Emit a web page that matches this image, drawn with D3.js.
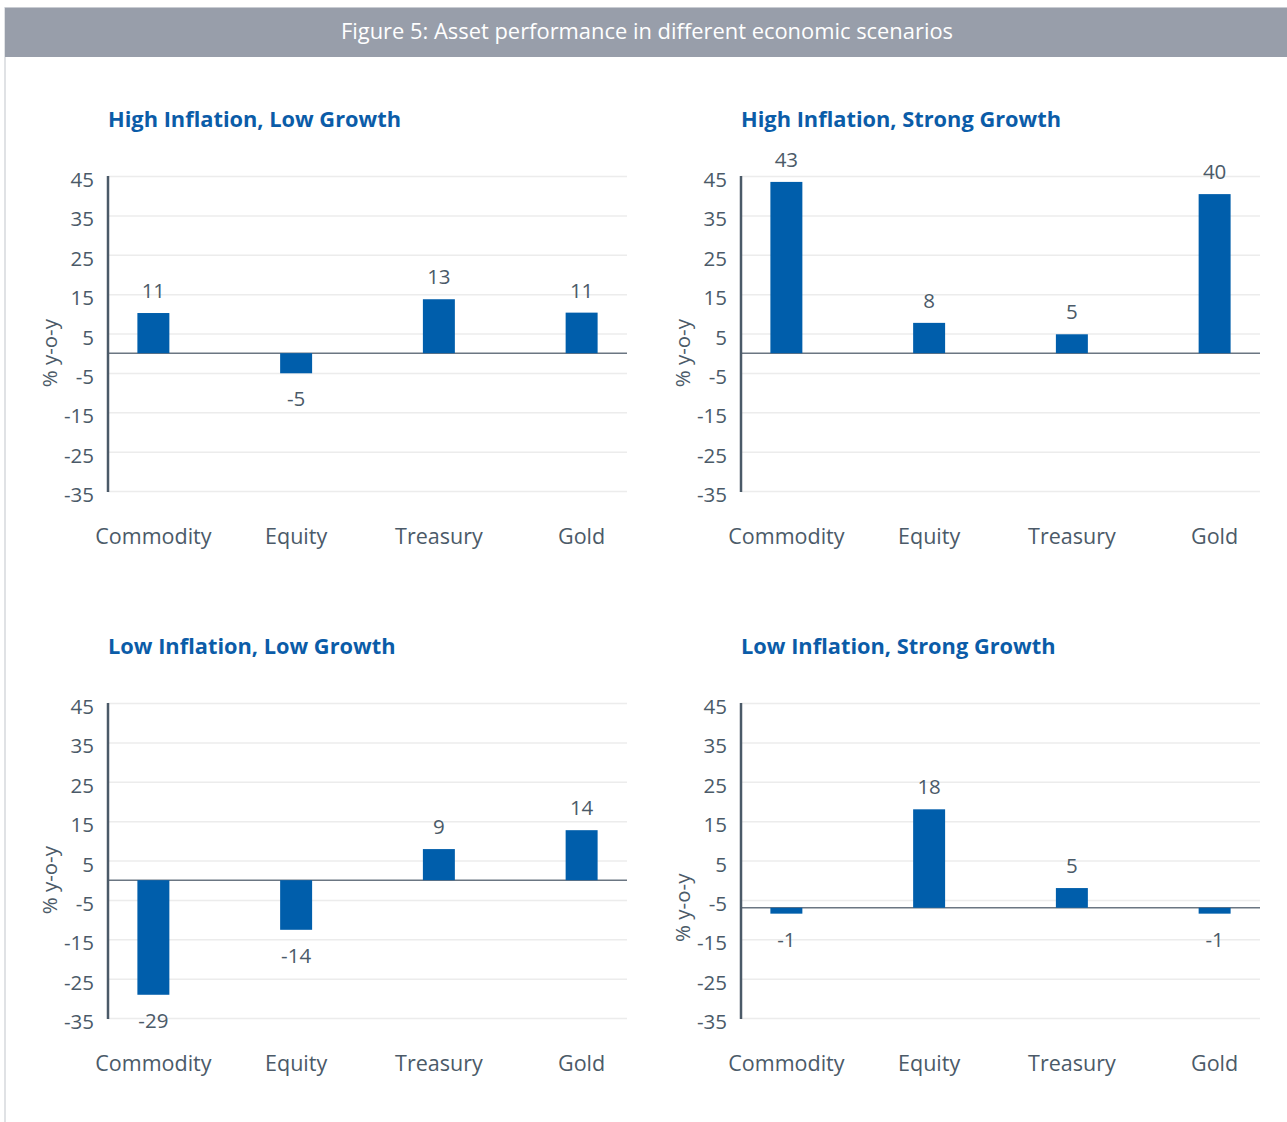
<!DOCTYPE html>
<html>
<head>
<meta charset="utf-8">
<script src="https://cdn.jsdelivr.net/npm/d3@7"></script>
<style>
  body { margin: 0; background: #fff; }
  svg, svg text { font-family: "Open Sans", "Noto Sans", sans-serif; }
  svg { display: block; }
  .grid line { stroke: #ececec; stroke-width: 1.5; }
  .grid path { display: none; }
  .tick-labels path, .tick-labels line { display: none; }
  .tick-labels text { fill: #4b5a68; font-size: 20.5px; }
  .cat-labels path, .cat-labels line { display: none; }
  .cat-labels text { fill: #4b5a68; font-size: 21.5px; }
</style>
</head>
<body>
<div id="chart"></div>
<script>
// categories and tick labels
var categories = ['Commodity', 'Equity', 'Treasury', 'Gold'];
var tickValues = [45, 35, 25, 15, 5, -5, -15, -25, -35];
var panelTitles = [
  'High Inflation, Low Growth',
  'High Inflation, Strong Growth',
  'Low Inflation, Low Growth',
  'Low Inflation, Strong Growth'
];

// bar heights as drawn
var highInfLowGrowth = [10.2, -5.1, 13.7, 10.3];
var highInfStrongGrowth = [43.5, 7.7, 4.8, 40.4];
var lowInfLowGrowth = [-29.1, -12.6, 7.9, 12.7];
var lowInfStrongGrowth = [-1.5, 25, 5, -1.5];

// printed value labels
var highInfLowGrowthLabels = [11, -5, 13, 11];
var highInfStrongGrowthLabels = [43, 8, 5, 40];
var lowInfLowGrowthLabels = [-29, -14, 9, 14];
var lowInfStrongGrowthLabels = [-1, 18, 5, -1];

var _width = 1287, _height = 1122;
var plotW = 519, plotH = 315;

var panels = [
  {title: panelTitles[0], values: highInfLowGrowth, labels: highInfLowGrowthLabels, left: 108, top: 176, base: 0},
  {title: panelTitles[1], values: highInfStrongGrowth, labels: highInfStrongGrowthLabels, left: 741, top: 176, base: 0},
  {title: panelTitles[2], values: lowInfLowGrowth, labels: lowInfLowGrowthLabels, left: 108, top: 703, base: 0},
  // baseline of this panel sits lower in the original
  {title: panelTitles[3], values: lowInfStrongGrowth, labels: lowInfStrongGrowthLabels, left: 741, top: 703, base: -7}
];

// plain hyphen, like the original labels
function fmt(d) { return String(d); }

var svg = d3.select('#chart').append('svg')
  .attr('width', _width)
  .attr('height', _height);

// header
svg.append('line')
  .attr('x1', 5).attr('x2', 5).attr('y1', 7).attr('y2', _height)
  .attr('stroke', '#d6d8dc').attr('stroke-width', 1.5);
svg.append('line')
  .attr('x1', 5).attr('x2', _width).attr('y1', 7.5).attr('y2', 7.5)
  .attr('stroke', '#c9ccd2').attr('stroke-width', 1);
svg.append('rect')
  .attr('x', 5).attr('y', 8).attr('width', _width - 5).attr('height', 49)
  .attr('fill', '#989eaa');
svg.append('text')
  .attr('x', 647).attr('y', 39)
  .attr('text-anchor', 'middle')
  .attr('fill', '#fff')
  .style('font-size', '21.9px')
  .text('Figure 5: Asset performance in different economic scenarios');

panels.forEach(function (p) {
  var g = svg.append('g')
    .attr('transform', 'translate(' + p.left + ',' + p.top + ')');

  var y = d3.scaleLinear().domain([-35, 45]).range([plotH, 0]);
  var x = d3.scaleBand()
    .domain(categories)
    .range([-26, 545])
    .paddingInner(0.776)
    .paddingOuter(0.388);

  g.append('text')
    .attr('x', 0).attr('y', -49)
    .attr('fill', '#0b5ca8')
    .style('font-size', '21.8px')
    .style('font-weight', 'bold')
    .text(p.title);

  g.append('g')
    .attr('class', 'grid')
    .call(d3.axisLeft(y).tickValues(tickValues).tickSize(-plotW).tickFormat(''));

  g.append('g')
    .attr('class', 'tick-labels')
    .attr('transform', 'translate(-14,4)')
    .call(d3.axisLeft(y).tickValues(tickValues).tickSize(0).tickPadding(0).tickFormat(fmt));

  g.append('line')
    .attr('x1', 0).attr('x2', plotW)
    .attr('y1', y(p.base)).attr('y2', y(p.base))
    .attr('stroke', '#6b7682').attr('stroke-width', 1.5);

  g.append('line')
    .attr('x1', 0).attr('x2', 0)
    .attr('y1', y(45)).attr('y2', y(-35) + 1)
    .attr('stroke', '#4b5a68').attr('stroke-width', 2.5);

  g.append('g')
    .attr('class', 'cat-labels')
    .attr('transform', 'translate(0,' + (plotH + 38) + ')')
    .call(d3.axisBottom(x).tickSize(0).tickPadding(0));

  g.append('text')
    .attr('transform', 'translate(-58,' + y(p.base) + ') rotate(-90)')
    .attr('text-anchor', 'middle')
    .attr('dy', '0.35em')
    .attr('fill', '#4b5a68')
    .style('font-size', '20.5px')
    .text('% y-o-y');

  var rows = categories.map(function (c, i) {
    return {cat: c, v: p.values[i], label: p.labels[i]};
  });

  g.selectAll('rect.bar')
    .data(rows)
    .enter().append('rect')
      .attr('class', 'bar')
      .attr('x', function (d) { return x(d.cat); })
      .attr('width', x.bandwidth())
      .attr('y', function (d) { return Math.min(y(p.base + d.v), y(p.base)); })
      .attr('height', function (d) { return Math.abs(y(p.base + d.v) - y(p.base)); })
      .attr('fill', '#005eab');

  g.selectAll('text.val')
    .data(rows)
    .enter().append('text')
      .attr('class', 'val')
      .attr('x', function (d) { return x(d.cat) + x.bandwidth() / 2; })
      .attr('y', function (d) {
        return d.v >= 0 ? y(p.base + d.v) - 22 : y(p.base + d.v) + 26;
      })
      .attr('dy', '0.35em')
      .attr('text-anchor', 'middle')
      .attr('fill', '#4b5a68')
      .style('font-size', '20.5px')
      .text(function (d) { return fmt(d.label); });
});
</script>
</body>
</html>
